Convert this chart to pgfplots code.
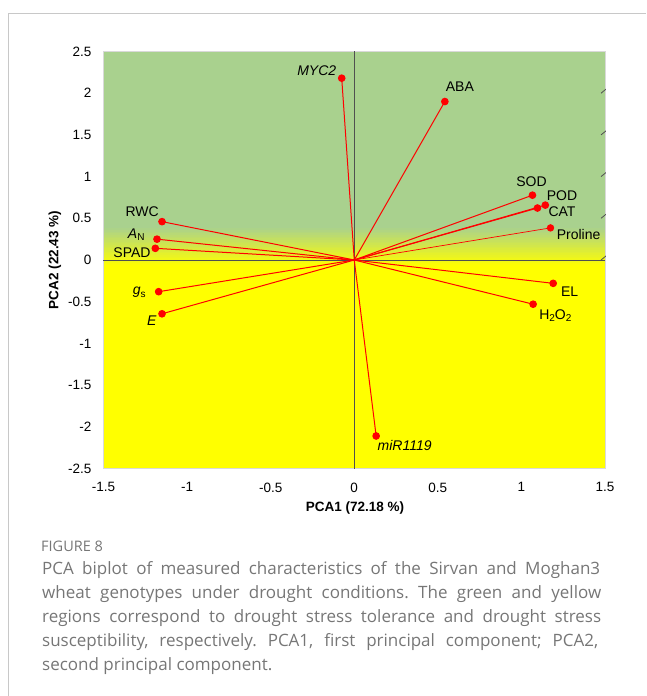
\documentclass[border=0pt]{standalone}
\usepackage{pgfplots}
\pgfplotsset{compat=1.18}
\usepackage{fontspec}
\setmainfont{Liberation Sans}
\newfontfamily\capfont{Open Sans}
\definecolor{bggreen}{RGB}{169,209,142}
\definecolor{bgyellow}{RGB}{255,255,0}
\definecolor{axgray}{RGB}{80,80,80}
\definecolor{boxgray}{RGB}{217,217,217}
\definecolor{framegray}{RGB}{200,200,200}
\definecolor{capgray}{RGB}{118,118,118}
\newcommand{\sub}[1]{\raisebox{-2.5pt}{\fontsize{10}{12}\selectfont #1}}
\tikzset{
  vec/.style={red, line width=1pt, mark=*, mark size=3.3pt, mark indices={2}, mark options={solid, fill=red, draw=red}},
  lab/.style={inner sep=0pt, font=\fontsize{14}{16}\selectfont, black},
}
\frenchspacing
\begin{document}
\begin{tikzpicture}
\begin{axis}[
  name=ax,
  scale only axis, width=501.5pt, height=417pt,
  xmin=-1.5, xmax=1.5, ymin=-2.5, ymax=2.5,
  clip=false,
  axis line style={draw=boxgray, line width=0.8pt},
  major tick length=0pt,
  xtick={-1.5,-1,-0.5,0,0.5,1,1.5},
  xticklabels={-1.5,-1,-0.5,0,0.5,1,1.5},
  ytick={-2.5,-2,-1.5,-1,-0.5,0,0.5,1,1.5,2,2.5},
  yticklabels={-2.5,-2,-1.5,-1,-0.5,0,0.5,1,1.5,2,2.5},
  tick label style={font=\fontsize{13.5}{16}\selectfont, inner sep=0pt},
  xticklabel style={anchor=north, yshift=-14pt},
  yticklabel style={anchor=east, xshift=-12pt},
]
% background regions
\fill[bggreen] (axis cs:-1.5,0.4) rectangle (axis cs:1.5,2.5);
\fill[bgyellow] (axis cs:-1.5,-2.5) rectangle (axis cs:1.5,-0.08);
\pgfplotsinvokeforeach{0,...,23}{
  \fill[bggreen!\number\numexpr #1*100/23\relax!bgyellow] (axis cs:-1.5,{-0.08+#1*0.02}) rectangle (axis cs:1.5,{-0.08+(#1+1)*0.02+0.003});
}
\draw[boxgray, line width=0.8pt] (axis cs:-1.5,-2.5) rectangle (axis cs:1.5,2.5);
% middle axes
\draw[axgray, line width=0.8pt] (axis cs:-1.5,0) -- (axis cs:1.5,0);
\draw[axgray, line width=0.8pt] (axis cs:0,-2.5) -- (axis cs:0,2.5);
\pgfplotsinvokeforeach{-2.5,-2,-1.5,-1,-0.5,0.5,1,1.5,2,2.5}{
  \draw[axgray, line width=0.8pt] (axis cs:0,#1) ++(-4pt,0) -- ++(8pt,0);
}
\addplot[vec] coordinates {(0,0) (-0.075,2.18)} node[pos=1, lab, anchor=base east, xshift=-5pt, yshift=3pt]{\textit{MYC2}};
\addplot[vec] coordinates {(0,0) (0.542,1.90)} node[pos=1, lab, anchor=base, xshift=15pt, yshift=9.7pt]{ABA};
\addplot[vec] coordinates {(0,0) (1.066,0.777)} node[pos=1, lab, anchor=base, xshift=-1pt, yshift=9pt]{SOD};
\addplot[vec] coordinates {(0,0) (1.143,0.658)} node[pos=1, lab, anchor=base west, xshift=1pt, yshift=4.3pt]{POD};
\addplot[vec] coordinates {(0,0) (1.096,0.623)} node[pos=1, lab, anchor=base west, xshift=10.6pt, yshift=-8.7pt]{CAT};
\addplot[vec, line width=0.7pt] coordinates {(0,0) (1.174,0.385)} node[pos=1, lab, anchor=base west, xshift=6pt, yshift=-11.7pt]{Proline};
\addplot[vec] coordinates {(0,0) (1.19,-0.28)} node[pos=1, lab, anchor=base west, xshift=7.4pt, yshift=-13pt]{EL};
\addplot[vec] coordinates {(0,0) (1.07,-0.53)} node[pos=1, lab, anchor=base west, xshift=5.7pt, yshift=-15pt]{H\sub{2}O\sub{2}};
\addplot[vec] coordinates {(0,0) (0.131,-2.11)} node[pos=1, lab, anchor=base west, xshift=1pt, yshift=-15pt]{\textit{miR1119}};
\addplot[vec] coordinates {(0,0) (-1.15,0.46)} node[pos=1, lab, anchor=base east, xshift=-2.7pt, yshift=5.6pt]{RWC};
\addplot[vec] coordinates {(0,0) (-1.18,0.25)} node[pos=1, lab, anchor=base east, xshift=-12pt, yshift=1pt]{\textit{A}\sub{N}};
\addplot[vec] coordinates {(0,0) (-1.19,0.14)} node[pos=1, lab, anchor=base east, xshift=-4.3pt, yshift=-9.6pt]{SPAD};
\addplot[vec] coordinates {(0,0) (-1.17,-0.38)} node[pos=1, lab, anchor=base east, xshift=-12.6pt, yshift=-3pt]{\textit{g}\sub{s}};
\addplot[vec] coordinates {(0,0) (-1.15,-0.645)} node[pos=1, lab, anchor=base east, xshift=-5pt, yshift=-11.4pt]{\textit{E}};
\end{axis}
\begin{scope}[x=1pt, y=1pt, shift={(ax.south west)}, shift={(-103.5pt,-227.5pt)}]
% white strip right of the plot, above the zero level, so that nothing stray shows there
\fill[white] (605.6,434) rectangle (660,710);
\fill[white] (0,684) rectangle (660,710);
% frame (left and top edges, running to the page edges)
\draw[framegray, line width=1pt] (8.5,0) -- (8.5,682.5) -- (646,682.5);
% axis titles
\node[font=\bfseries\fontsize{13.5}{16}\selectfont] at (355,188) {PCA1 (72.18 \%)};
\node[rotate=90, font=\bfseries\fontsize{13.5}{16}\selectfont] at (55,436) {PCA2 (22.43 \%)};
% caption
\begin{scope}[every node/.style={anchor=base west, inner sep=0pt, text=capgray}]
\node[font=\capfont\fontsize{14.5}{16}\selectfont] at (41,145) {FIGURE 8};
\node[font=\capfont\fontsize{17}{24}\selectfont] at (42,122) {\makebox[558pt][s]{PCA biplot of measured characteristics of the Sirvan and Moghan3}};
\node[font=\capfont\fontsize{17}{24}\selectfont] at (42,98) {\makebox[559pt][s]{wheat genotypes under drought conditions. The green and yellow}};
\node[font=\capfont\fontsize{17}{24}\selectfont] at (42,74) {\makebox[559pt][s]{regions correspond to drought stress tolerance and drought stress}};
\node[font=\capfont\fontsize{17}{24}\selectfont] at (42,50) {\makebox[556pt][s]{susceptibility, respectively. PCA1, first principal component; PCA2,}};
\node[font=\capfont\fontsize{17}{24}\selectfont] at (42,26) {second principal component.};
\end{scope}
\pgfresetboundingbox
\useasboundingbox (0,0) rectangle (646,696);
\end{scope}
\end{tikzpicture}
\end{document}
